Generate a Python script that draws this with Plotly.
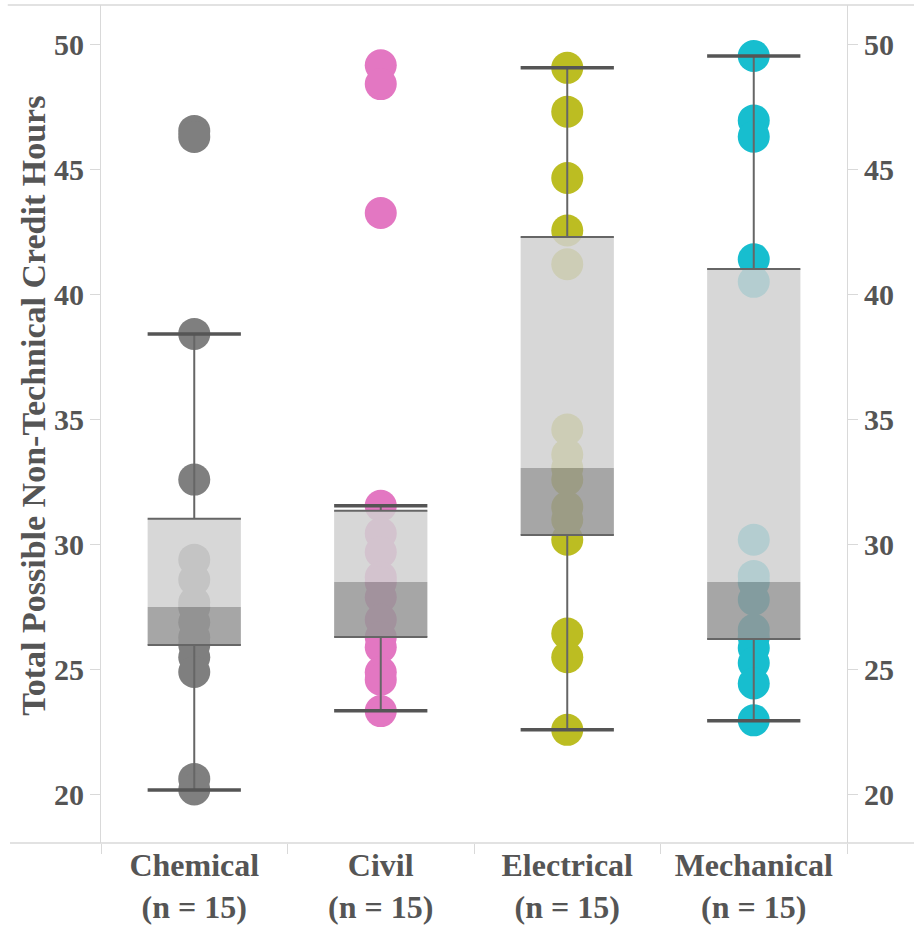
import plotly.graph_objects as go

categories = ["Chemical", "Civil", "Electrical", "Mechanical"]
counts = [15, 15, 15, 15]
colors = ["#7f7f7f", "#e377c2", "#bcbd22", "#17becf"]

chemical = [46.53, 46.29, 38.42, 32.6, 29.4, 28.6, 27.7, 27.5, 26.9, 26.3, 26.0, 25.5, 24.91, 20.64, 20.22]
civil = [49.15, 48.4, 43.25, 31.55, 30.45, 29.7, 28.7, 28.5, 27.9, 27.0, 26.3, 25.9, 24.9, 24.6, 23.35]
electrical = [49.05, 47.3, 44.65, 42.55, 41.2, 34.6, 33.6, 33.06, 32.6, 31.5, 31.0, 30.2, 26.45, 25.5, 22.6]
mechanical = [49.52, 46.95, 46.3, 41.4, 40.5, 30.2, 28.75, 28.5, 27.8, 26.6, 26.3, 25.87, 25.27, 24.45, 22.98]
series = [chemical, civil, electrical, mechanical]

q1 = [25.99, 26.31, 30.39, 26.23]
median = [27.51, 28.51, 33.06, 28.51]
q3 = [31.03, 31.35, 42.29, 41.01]
lower_whisker = [20.2, 23.36, 22.6, 22.96]
upper_whisker = [38.42, 31.55, 49.05, 49.52]

y_ticks = [20, 25, 30, 35, 40, 45, 50]
y_title = "Total Possible Non-Technical Credit Hours"

HW = 0.25  # half width of box in category units
font_family = "Liberation Serif"
text_color = "#555555"
axis_color = "#d9d9d9"

fig = go.Figure()

# dots
for i, (cat, vals, col) in enumerate(zip(categories, series, colors)):
    fig.add_trace(go.Scatter(
        x=[i] * len(vals), y=vals, mode="markers",
        marker=dict(size=32, color=col, line=dict(width=0)),
        name=cat, showlegend=False, hoverinfo="y"))

# box halves
def rects(lo_list, hi_list):
    xs, ys = [], []
    for i, (lo, hi) in enumerate(zip(lo_list, hi_list)):
        xs += [i - HW, i + HW, i + HW, i - HW, i - HW, None]
        ys += [lo, lo, hi, hi, lo, None]
    return xs, ys

xs, ys = rects(q1, median)
fig.add_trace(go.Scatter(x=xs, y=ys, mode="lines", fill="toself",
                         fillcolor="rgba(150,150,150,0.85)", line=dict(width=0),
                         showlegend=False, hoverinfo="skip"))
xs, ys = rects(median, q3)
fig.add_trace(go.Scatter(x=xs, y=ys, mode="lines", fill="toself",
                         fillcolor="rgba(208,208,208,0.85)", line=dict(width=0),
                         showlegend=False, hoverinfo="skip"))

# whiskers (vertical)
wx, wy = [], []
for i in range(len(categories)):
    wx += [i, i, None, i, i, None]
    wy += [q3[i], upper_whisker[i], None, q1[i], lower_whisker[i], None]
fig.add_trace(go.Scatter(x=wx, y=wy, mode="lines", line=dict(color="#666666", width=2),
                         showlegend=False, hoverinfo="skip"))

# box edges
ex, ey = [], []
for i in range(len(categories)):
    ex += [i - HW, i + HW, None, i - HW, i + HW, None]
    ey += [q1[i], q1[i], None, q3[i], q3[i], None]
fig.add_trace(go.Scatter(x=ex, y=ey, mode="lines", line=dict(color="#666666", width=2),
                         showlegend=False, hoverinfo="skip"))

# caps
cx, cy = [], []
for i in range(len(categories)):
    cx += [i - HW, i + HW, None, i - HW, i + HW, None]
    cy += [lower_whisker[i], lower_whisker[i], None, upper_whisker[i], upper_whisker[i], None]
fig.add_trace(go.Scatter(x=cx, y=cy, mode="lines", line=dict(color="#555555", width=3.5),
                         showlegend=False, hoverinfo="skip"))

# invisible trace for right axis
fig.add_trace(go.Scatter(x=[0], y=[median[0]], yaxis="y2", mode="markers",
                         marker=dict(opacity=0), showlegend=False, hoverinfo="skip"))

yrange = [18.08, 51.56]
tickfont = dict(family=font_family, size=30, color=text_color, weight="bold")

fig.update_layout(
    width=914, height=926,
    margin=dict(l=101, r=67, t=5, b=83, autoexpand=False),
    plot_bgcolor="white", paper_bgcolor="white",
    xaxis=dict(
        range=[-0.5, 3.5], tickvals=list(range(len(categories))),
        ticktext=[f"{c}<br>(n = {n})" for c, n in zip(categories, counts)],
        ticks="", showgrid=False, zeroline=False, showline=False,
        tickfont=dict(family=font_family, size=32, color=text_color, weight="bold"),
        minor=dict(tick0=-0.5, dtick=1, ticks="outside", ticklen=10,
                   tickcolor=axis_color, tickwidth=1, showgrid=False),
    ),
    yaxis=dict(
        range=yrange, tickvals=y_ticks, showgrid=False, zeroline=False,
        showline=True, linecolor=axis_color, linewidth=1,
        ticks="outside", ticklen=10, tickcolor=axis_color, tickwidth=1,
        tickfont=tickfont,
    ),
    yaxis2=dict(
        range=yrange, tickvals=y_ticks, overlaying="y", side="right",
        showgrid=False, zeroline=False,
        showline=True, linecolor=axis_color, linewidth=1,
        ticks="outside", ticklen=10, tickcolor=axis_color, tickwidth=1,
        tickfont=tickfont,
    ),
    annotations=[
        dict(text=y_title, xref="paper", yref="paper", x=-0.09, y=0.5215,
             textangle=-90, showarrow=False, xanchor="center", yanchor="middle",
             font=dict(family=font_family, size=34, color=text_color, weight="bold")),
    ],
    shapes=[
        dict(type="line", xref="paper", yref="paper", x0=-0.125, x1=1.09, y0=1, y1=1,
             line=dict(color=axis_color, width=1.5), layer="below"),
        dict(type="line", xref="paper", yref="paper", x0=-0.122, x1=1.09, y0=0, y1=0,
             line=dict(color=axis_color, width=1.5), layer="below"),
    ],
)

fig.write_html("out.html", config={"displayModeBar": False},
               post_script="document.body.style.margin='0px';")
